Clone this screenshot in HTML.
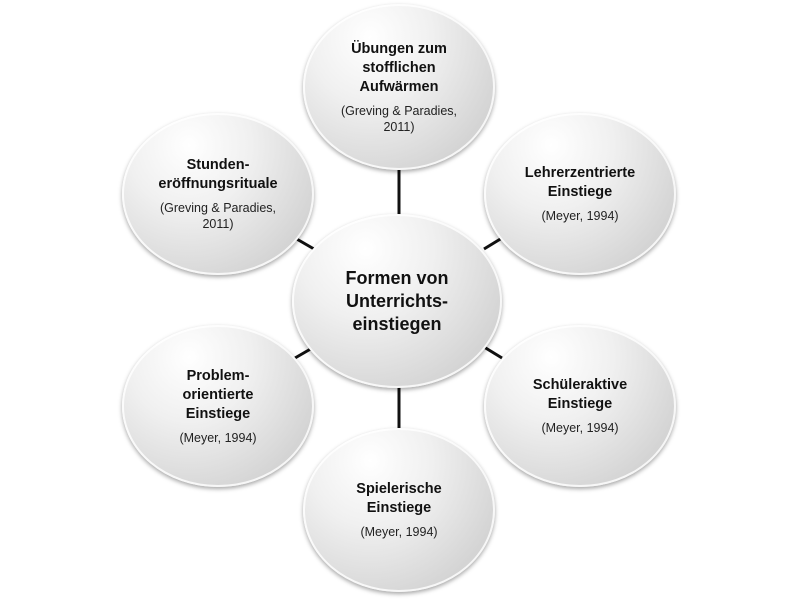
<!DOCTYPE html>
<html><head><style>
body{margin:0;width:800px;height:600px;background:#fff;position:relative;overflow:hidden;font-family:"Liberation Sans",sans-serif;}
.c{position:absolute;border-radius:50%;background:radial-gradient(ellipse at 35% 20%,#ffffff 0%,#f0f0f0 35%,#cfcfcf 85%,#bdbdbd 100%);box-shadow:0 2px 4px rgba(0,0,0,.35), inset 0 0 0 2px rgba(255,255,255,.8);display:flex;flex-direction:column;align-items:center;justify-content:center;text-align:center;color:#111;}
.t{font-weight:bold;font-size:14.5px;line-height:19px;}
.s{font-size:12.5px;line-height:16px;margin-top:6px;color:#222;}
svg{position:absolute;left:0;top:0}
</style></head><body>
<svg width="800" height="600"><g stroke="#111" stroke-width="3">
<line x1="399" y1="170" x2="399" y2="215"/>
<line x1="399" y1="380" x2="399" y2="430"/>
<line x1="295" y1="238" x2="314" y2="249"/>
<line x1="484" y1="249" x2="502" y2="238"/>
<line x1="295" y1="358" x2="314" y2="347"/>
<line x1="484" y1="347" x2="502" y2="358"/>
</g></svg>
<div class="c" style="left:303px;top:4px;width:192px;height:166px"><div class="t">Übungen zum<br>stofflichen<br>Aufwärmen</div><div class="s">(Greving &amp; Paradies,<br>2011)</div></div>
<div class="c" style="left:122px;top:113px;width:192px;height:162px"><div class="t">Stunden-<br>eröffnungsrituale</div><div class="s">(Greving &amp; Paradies,<br>2011)</div></div>
<div class="c" style="left:484px;top:113px;width:192px;height:162px"><div class="t">Lehrerzentrierte<br>Einstiege</div><div class="s">(Meyer, 1994)</div></div>
<div class="c" style="left:292px;top:214px;width:210px;height:174px"><div class="t" style="font-size:18px;line-height:23px">Formen von<br>Unterrichts-<br>einstiegen</div></div>
<div class="c" style="left:122px;top:325px;width:192px;height:162px"><div class="t">Problem-<br>orientierte<br>Einstiege</div><div class="s">(Meyer, 1994)</div></div>
<div class="c" style="left:484px;top:325px;width:192px;height:162px"><div class="t">Schüleraktive<br>Einstiege</div><div class="s">(Meyer, 1994)</div></div>
<div class="c" style="left:303px;top:428px;width:192px;height:164px"><div class="t">Spielerische<br>Einstiege</div><div class="s">(Meyer, 1994)</div></div>
</body></html>
